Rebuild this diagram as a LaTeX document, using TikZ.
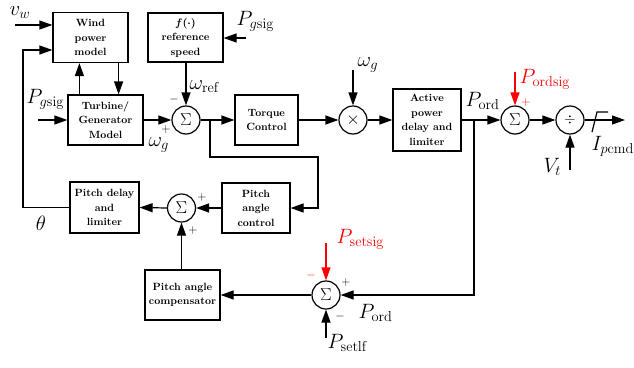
\documentclass[tikz,border=0pt]{standalone}
\usepackage{amsmath}
\usetikzlibrary{arrows.meta}
\begin{document}
\begin{tikzpicture}[x=1pt,y=-1pt,
  line width=1.2pt,
  >={Triangle[length=13pt,width=9pt]},
  blk/.style={draw, line width=1.2pt, align=center, inner sep=1pt,
    font=\fontsize{10.5}{14.5}\selectfont\bfseries},
  sumc/.style={draw, circle, minimum size=28pt, inner sep=0pt},
  lbl/.style={inner sep=0pt, font=\fontsize{20.74}{24}\selectfont},
  pm/.style={inner sep=0pt, font=\fontsize{12}{12}\selectfont},
  sig/.style={font=\fontsize{17.28}{18}\selectfont}
]
\useasboundingbox (0,0) rectangle (634,367);

% blocks
\node[blk, minimum width=75pt, minimum height=50pt] (wind) at (90.5,37.5) {Wind\\power\\model};
\node[blk, minimum width=75pt, minimum height=49pt] (fref) at (185.5,37.5) {{\boldmath$f(\cdot)$}\\reference\\speed};
\node[blk, minimum width=75pt, minimum height=50pt] (turb) at (105.5,120) {Turbine/\\Generator\\Model};
\node[sumc, sig] (s1) at (186,120) {$\Sigma$};
\node[blk, minimum width=63pt, minimum height=50pt] (tq) at (266.5,120) {Torque\\Control};
\node[sumc, font=\fontsize{17.28}{18}\selectfont] (mul) at (353,120) {$\times$};
\node[blk, minimum width=68pt, minimum height=62pt] (apd) at (427,120) {Active\\power\\delay and\\limiter};
\node[sumc, sig] (s2) at (515,120) {$\Sigma$};
\node[sumc, font=\fontsize{14.4}{14}\selectfont] (dv) at (570,120) {$\div$};
\node[blk, minimum width=69pt, minimum height=51pt] (pdl) at (104.5,207.5) {Pitch delay\\and\\limiter};
\node[sumc, sig] (s4) at (181.5,208) {$\Sigma$};
\node[blk, minimum width=68pt, minimum height=50pt] (pac) at (256,208) {Pitch\\angle\\control};
\node[blk, minimum width=75pt, minimum height=50pt] (pcomp) at (182.5,295) {Pitch angle\\compensator};
\node[sumc, sig] (s3) at (326,295) {$\Sigma$};

% free ends and corners
\coordinate (vwin) at (15,25);
\coordinate (pgin) at (38,120);
\coordinate (pgin2) at (246,38);
\coordinate (wgin) at (353,70);
\coordinate (posin) at (515,72);
\coordinate (vtin) at (570,170);
\coordinate (pssin) at (326,243);
\coordinate (pslin) at (326,338);
\coordinate (out) at (625,120);
\coordinate (j1) at (210,120);
\coordinate (j2) at (474,120);
\coordinate (c1) at (318,157);
\coordinate (c2) at (23,50);
\coordinate (lima) at (592,132);
\coordinate (limb) at (597,112);
\coordinate (limc) at (608,112);

% connectors
\draw[->] (vwin) -- (vwin -| wind.west);
\draw[->] (pgin) -- (turb.west);
\draw[->] (pgin2) -- (pgin2 -| fref.east);
\draw[->] ([xshift=12pt]turb.north west) -- ([xshift=12pt]turb.north west |- wind.south);
\draw[->] ([xshift=-10pt]wind.south east) -- ([xshift=-10pt]wind.south east |- turb.north);
\draw[->] (s1.north |- fref.south) -- (s1.north);
\draw[->] (turb.east) -- (s1.west);
\draw[->] (s1.east) -- (tq.west);
\draw[->] (tq.east) -- (mul.west);
\draw[->] (wgin) -- (mul.north);
\draw[->] (mul.east) -- (apd.west);
\draw[->] (apd.east) -- (s2.west);
\draw[->, red] (posin) -- (s2.north);
\draw[->] (s2.east) -- (dv.west);
\draw[->] (vtin) -- (dv.south);
\draw[->] (dv.east) -- (out);
\draw (lima) -- (limb) -- (limc);
\draw[->] (j1) |- (c1) |- (pac.east);
\draw[->] (pac.west) -- (s4.east);
\draw[->] (s4.west) -- (pdl.east);
\draw[->] (pdl.west) -| (c2) -- (c2 -| wind.west);
\draw[->] (s4.south |- pcomp.north) -- (s4.south);
\draw[->] (j2) |- (s3.east);
\draw[->] (s3.west) -- (pcomp.east);
\draw[->, red] (pssin) -- (s3.north);
\draw[->] (pslin) -- (s3.south);

% labels
\node[lbl, anchor=base west] (lvw) at (9,15) {$v_w$};
\node[lbl, anchor=base west] (lpg1) at (26,103) {$P_{g\mathrm{sig}}$};
\node[lbl, anchor=base west] (lpg2) at (236,25) {$P_{g\mathrm{sig}}$};
\node[lbl, anchor=base west] (lwref) at (189,89) {$\omega_{\mathrm{ref}}$};
\node[pm] (m1) at (174,99) {$-$};
\node[pm] (p1) at (166,129) {$+$};
\node[lbl, anchor=base west] (lwg1) at (148,146) {$\omega_g$};
\node[lbl, anchor=base west] (lwg2) at (357,66) {$\omega_g$};
\node[lbl, anchor=base west] (lpord) at (465,106) {$P_{\mathrm{ord}}$};
\node[lbl, anchor=base west, text=red] (lpos) at (519,83) {$P_{\mathrm{ordsig}}$};
\node[pm, text=red] (p2) at (526,102) {$+$};
\node[lbl, anchor=base west] (lvt) at (543,172) {$V_t$};
\node[lbl, anchor=base west] (lip) at (591,150) {$I_{p\mathrm{cmd}}$};
\node[lbl] (lth) at (41,223) {$\theta$};
\node[pm] (p3) at (202,197) {$+$};
\node[pm] (p4) at (193,230) {$+$};
\node[lbl, anchor=base west, text=red] (lpss) at (336,243) {$P_{\mathrm{setsig}}$};
\node[pm, text=red] (m2) at (311,275) {$-$};
\node[pm] (p5) at (346,282) {$+$};
\node[pm] (m3) at (340,316) {$-$};
\node[lbl, anchor=base west] (lpord2) at (358,318) {$P_{\mathrm{ord}}$};
\node[lbl, anchor=base west] (lpsl) at (327,348) {$P_{\mathrm{setlf}}$};
\end{tikzpicture}
\end{document}
